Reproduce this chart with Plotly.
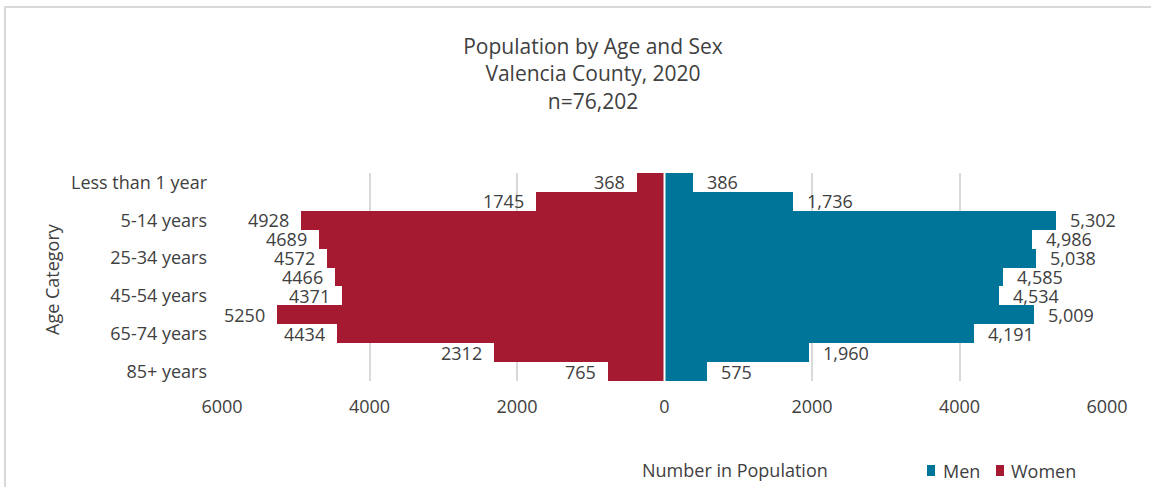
import plotly.graph_objects as go

# Age categories, top to bottom
age_groups = [
    "Less than 1 year", "1-4 years", "5-14 years", "15-24 years", "25-34 years",
    "35-44 years", "45-54 years", "55-64 years", "65-74 years", "75-84 years",
    "85+ years",
]
women = [368, 1745, 4928, 4689, 4572, 4466, 4371, 5250, 4434, 2312, 765]
men = [386, 1736, 5302, 4986, 5038, 4585, 4534, 5009, 4191, 1960, 575]

x_ticks = [-6000, -4000, -2000, 0, 2000, 4000, 6000]
x_tick_text = ["6000", "4000", "2000", "0", "2000", "4000", "6000"]
y_tick_labels = age_groups[::2]

MEN_COLOR = "#00759A"
WOMEN_COLOR = "#A51A30"
TEXT_COLOR = "#404040"
FONT = "Open Sans"

W, H = 1151, 487
L, R, T, B = 222, 44, 173, 106
plot_w = W - L - R
plot_h = H - T - B


def px_x(px):
    return (px - L) / plot_w


def px_y(py):
    return (H - B - py) / plot_h


fig = go.Figure()
fig.add_trace(go.Bar(
    y=age_groups, x=men, name="Men", orientation="h",
    marker=dict(color=MEN_COLOR, line=dict(width=0)),
    hovertemplate="%{y}: %{x:,}<extra>Men</extra>",
))
fig.add_trace(go.Bar(
    y=age_groups, x=[-v for v in women], name="Women", orientation="h",
    marker=dict(color=WOMEN_COLOR, line=dict(width=0)),
    customdata=women,
    hovertemplate="%{y}: %{customdata}<extra>Women</extra>",
))

annotations = []
# value labels at the outer end of each bar
for cat, v in zip(age_groups, women):
    annotations.append(dict(
        x=-v, y=cat, xref="x", yref="y", text=str(v), showarrow=False,
        xanchor="right", yanchor="middle", xshift=-10, height=18,
        font=dict(family=FONT, size=18, color=TEXT_COLOR),
    ))
for cat, v in zip(age_groups, men):
    annotations.append(dict(
        x=v, y=cat, xref="x", yref="y", text=f"{v:,}", showarrow=False,
        xanchor="left", yanchor="middle", xshift=12, height=18,
        font=dict(family=FONT, size=18, color=TEXT_COLOR),
    ))

# axis titles
annotations.append(dict(
    x=px_x(735), y=px_y(470), xref="paper", yref="paper",
    text="Number in Population", showarrow=False,
    xanchor="center", yanchor="middle",
    font=dict(family=FONT, size=18, color=TEXT_COLOR),
))
annotations.append(dict(
    x=px_x(52), y=px_y(279), xref="paper", yref="paper",
    text="Age Category", showarrow=False, textangle=-90,
    xanchor="center", yanchor="middle",
    font=dict(family=FONT, size=18, color=TEXT_COLOR),
))

# legend entries: coloured key squares with their labels
legend_items = [("Men", MEN_COLOR, 927, 941), ("Women", WOMEN_COLOR, 996, 1009)]

shapes = [
    # outer chart frame
    dict(type="rect", xref="paper", yref="paper",
         x0=px_x(5), x1=px_x(1170), y0=px_y(520), y1=px_y(7),
         line=dict(color="#D9D9D9", width=2), fillcolor="rgba(0,0,0,0)",
         layer="below"),
    # thin separator between the two sides at zero
    dict(type="line", xref="x", yref="paper", x0=0, x1=0, y0=0, y1=1,
         line=dict(color="white", width=2), layer="above"),
]
for name, color, key_x, text_x in legend_items:
    shapes.append(dict(
        type="rect", xref="paper", yref="paper",
        x0=px_x(key_x), x1=px_x(key_x + 8), y0=px_y(476), y1=px_y(465),
        line=dict(width=0), fillcolor=color,
    ))
    annotations.append(dict(
        x=px_x(text_x), y=px_y(471), xref="paper", yref="paper",
        text=name, showarrow=False, xanchor="left", yanchor="middle",
        font=dict(family=FONT, size=18, color=TEXT_COLOR),
    ))

fig.update_layout(
    width=W, height=H,
    margin=dict(l=L, r=R, t=T, b=B, autoexpand=False),
    paper_bgcolor="white", plot_bgcolor="white",
    font=dict(family=FONT, size=18, color=TEXT_COLOR),
    title=dict(
        text="Population by Age and Sex<br>Valencia County, 2020<br>n=76,202",
        x=593 / W, xanchor="center",
        y=1 - 54 / H, yanchor="middle", yref="container",
        font=dict(family=FONT, size=21, color=TEXT_COLOR),
    ),
    barmode="relative", bargap=0,
    xaxis=dict(
        range=[-6000, 6000], tickvals=x_ticks, ticktext=x_tick_text,
        showgrid=True, gridcolor="#D9D9D9", gridwidth=1.5,
        zeroline=False, showline=False, ticks="",
        ticklabelstandoff=13,
        tickfont=dict(family=FONT, size=18, color=TEXT_COLOR),
        fixedrange=True,
    ),
    yaxis=dict(
        categoryorder="array", categoryarray=age_groups,
        range=[len(age_groups) - 0.5, -0.5], tickvals=y_tick_labels,
        showgrid=False, zeroline=False, showline=False, ticks="",
        ticklabelstandoff=14,
        tickfont=dict(family=FONT, size=18, color=TEXT_COLOR),
        fixedrange=True,
    ),
    showlegend=False,
    annotations=annotations,
    shapes=shapes,
)

fig.write_html("out.html")
